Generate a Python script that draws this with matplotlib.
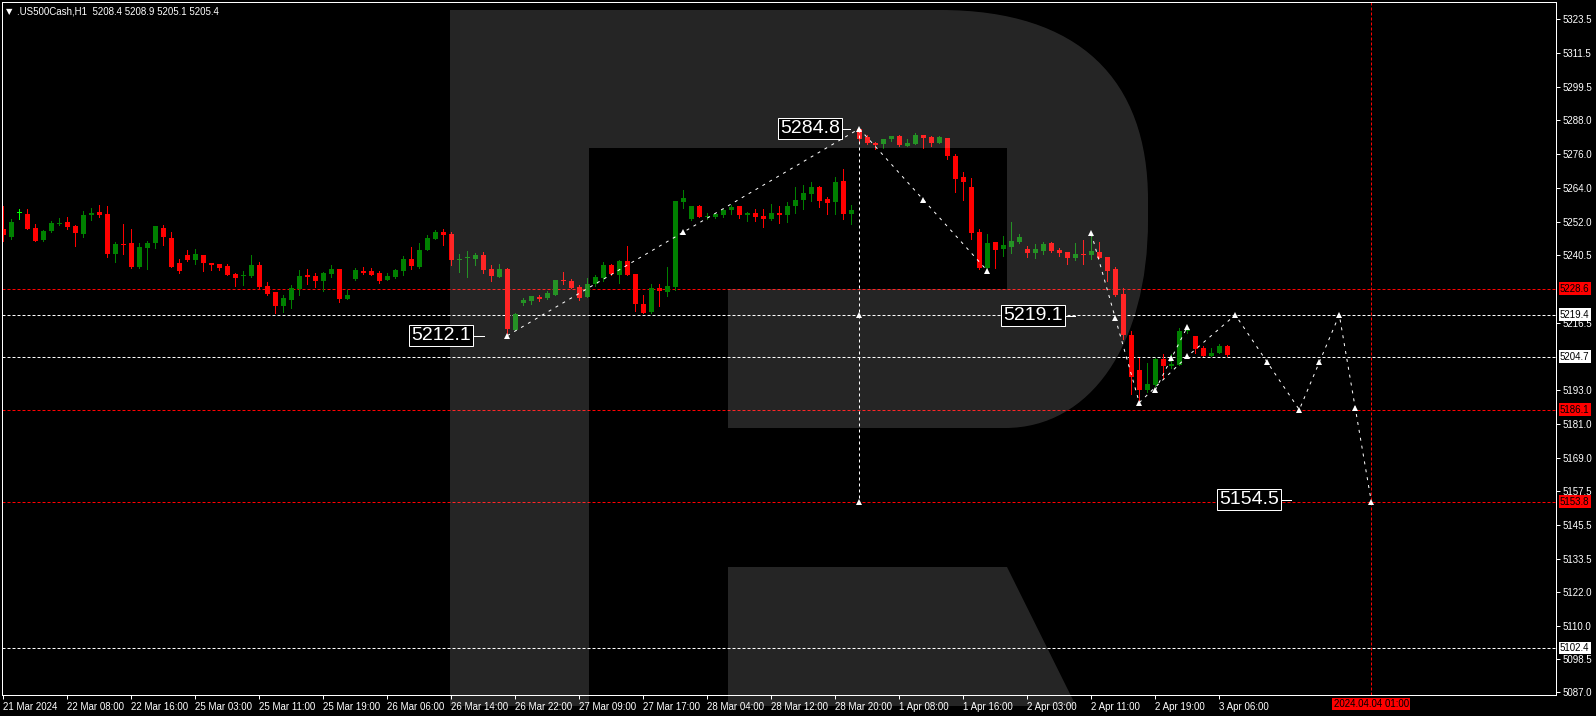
import numpy as np
import matplotlib
matplotlib.use('Agg')
import matplotlib.pyplot as plt
from matplotlib.path import Path
from matplotlib.patches import PathPatch
from matplotlib.transforms import Affine2D, blended_transform_factory

plt.rcParams['font.family'] = ['Liberation Sans', 'DejaVu Sans']

W, H = 1596, 716

# .US500Cash H1 bars, left to right (open, high, low, close)
opens = [5249.6, 5246.9, 5255.1, 5254.9, 5250.0, 5245.7, 5248.9, 5251.5, 5252.1, 5250.7,
         5247.8, 5254.5, 5255.6, 5254.9, 5240.8, 5244.3, 5244.7, 5236.3, 5242.9, 5244.7,
         5250.0, 5246.4, 5237.7, 5240.5, 5238.7, 5240.5, 5237.6, 5237.3, 5236.6, 5233.8,
         5233.0, 5233.1, 5236.9, 5229.5, 5227.4, 5222.5, 5224.6, 5228.5, 5233.4, 5233.1,
         5231.3, 5233.8, 5235.5, 5225.0, 5232.0, 5234.8, 5234.8, 5234.1, 5231.7, 5232.7,
         5234.8, 5239.0, 5236.2, 5242.2, 5246.0, 5248.5, 5247.8, 5238.7, 5239.3, 5239.0,
         5240.4, 5235.5, 5232.7, 5235.5, 5214.1, 5223.6, 5224.3, 5225.7, 5225.3, 5226.4,
         5231.8, 5231.3, 5229.2, 5225.7, 5230.2, 5232.4, 5236.9, 5233.4, 5238.3, 5233.8,
         5223.2, 5220.4, 5228.8, 5227.4, 5229.2, 5259.0, 5253.1, 5257.6, 5253.8, 5253.8,
         5254.5, 5256.2, 5257.6, 5254.5, 5255.2, 5254.1, 5253.1, 5255.2, 5254.5, 5257.6,
         5259.8, 5261.8, 5264.3, 5260.1, 5259.0, 5266.4, 5254.8, 5284.7, 5281.9, 5279.8,
         5279.4, 5281.2, 5282.2, 5278.7, 5279.4, 5282.6, 5281.9, 5279.8, 5281.5, 5275.2,
         5267.8, 5264.3, 5248.5, 5235.9, 5245.0, 5242.6, 5243.2, 5245.0, 5242.5, 5241.1,
         5241.8, 5244.6, 5242.2, 5241.5, 5239.4, 5240.8, 5240.4, 5241.5, 5239.7, 5235.5,
         5226.7, 5212.3, 5200.0, 5193.0, 5194.8, 5203.9, 5201.4, 5201.8, 5213.6, 5212.0,
         5207.8, 5204.9, 5206.0, 5208.4]
highs = [5257.7, 5253.1, 5256.6, 5256.6, 5251.4, 5249.1, 5252.3, 5253.5, 5253.8, 5251.1,
         5255.9, 5257.0, 5258.1, 5257.7, 5245.0, 5251.4, 5249.6, 5244.7, 5245.4, 5250.7,
         5251.0, 5248.5, 5239.1, 5242.2, 5242.6, 5240.5, 5237.6, 5237.3, 5237.3, 5234.1,
         5234.8, 5240.4, 5238.0, 5231.0, 5227.4, 5226.4, 5229.9, 5235.2, 5235.5, 5234.1,
         5234.5, 5236.9, 5235.5, 5228.1, 5235.9, 5236.2, 5235.9, 5234.8, 5234.1, 5235.5,
         5240.1, 5243.2, 5244.6, 5247.5, 5249.2, 5249.6, 5248.5, 5240.8, 5241.8, 5241.1,
         5241.5, 5236.9, 5237.3, 5235.9, 5220.1, 5225.3, 5226.0, 5226.4, 5227.8, 5231.6,
         5234.5, 5232.0, 5229.9, 5232.4, 5233.4, 5238.0, 5237.3, 5238.7, 5243.6, 5233.8,
         5226.4, 5230.2, 5230.2, 5236.2, 5259.4, 5263.3, 5257.6, 5258.0, 5255.2, 5255.2,
         5256.6, 5258.0, 5257.6, 5255.5, 5256.6, 5256.6, 5258.4, 5257.6, 5259.0, 5264.3,
         5265.0, 5266.1, 5264.7, 5260.8, 5267.8, 5270.6, 5258.0, 5284.8, 5282.6, 5280.1,
         5281.2, 5282.2, 5282.6, 5281.2, 5283.3, 5282.6, 5282.2, 5282.2, 5281.5, 5275.9,
         5269.6, 5267.5, 5249.6, 5247.8, 5245.0, 5247.1, 5252.0, 5247.8, 5243.6, 5244.3,
         5245.0, 5245.0, 5242.9, 5241.5, 5244.6, 5245.7, 5247.8, 5245.0, 5239.7, 5236.2,
         5228.8, 5213.7, 5204.3, 5202.5, 5204.2, 5205.7, 5205.7, 5214.8, 5215.5, 5212.0,
         5208.5, 5207.8, 5209.2, 5208.9]
lows = [5245.2, 5246.2, 5253.2, 5249.4, 5245.2, 5245.5, 5248.5, 5250.8, 5249.7, 5243.6,
        5246.9, 5252.8, 5253.9, 5239.8, 5238.0, 5240.8, 5235.9, 5235.9, 5235.6, 5242.9,
        5244.0, 5236.3, 5234.1, 5238.4, 5237.3, 5234.8, 5235.2, 5235.2, 5233.4, 5229.6,
        5229.9, 5232.7, 5228.5, 5226.4, 5220.1, 5220.4, 5221.8, 5226.4, 5230.3, 5229.2,
        5227.8, 5232.7, 5223.9, 5225.0, 5231.7, 5233.8, 5233.4, 5230.6, 5231.7, 5232.4,
        5233.4, 5235.5, 5235.9, 5242.2, 5246.0, 5244.0, 5236.9, 5234.5, 5232.7, 5236.9,
        5234.1, 5231.3, 5232.7, 5212.1, 5214.1, 5222.9, 5223.2, 5224.3, 5225.0, 5226.4,
        5230.3, 5228.8, 5224.6, 5225.7, 5229.5, 5231.3, 5233.4, 5230.6, 5233.4, 5220.8,
        5220.1, 5220.1, 5222.5, 5226.0, 5228.1, 5257.0, 5252.7, 5253.8, 5253.1, 5253.4,
        5253.8, 5254.8, 5253.4, 5252.4, 5252.4, 5250.3, 5252.7, 5251.7, 5252.0, 5255.2,
        5256.6, 5259.4, 5257.3, 5254.8, 5254.8, 5253.1, 5251.3, 5279.8, 5279.4, 5277.7,
        5278.0, 5280.5, 5278.7, 5278.7, 5279.4, 5278.0, 5278.7, 5279.8, 5274.1, 5262.6,
        5259.8, 5246.0, 5235.5, 5235.5, 5235.9, 5240.1, 5241.1, 5244.6, 5239.7, 5239.4,
        5240.8, 5241.5, 5240.1, 5237.3, 5238.7, 5237.3, 5239.0, 5239.4, 5231.3, 5226.0,
        5210.9, 5191.6, 5188.8, 5192.3, 5194.4, 5197.2, 5200.7, 5201.8, 5212.9, 5206.0,
        5204.9, 5204.9, 5206.0, 5205.1]
closes = [5247.3, 5252.1, 5255.1, 5249.6, 5245.4, 5248.9, 5251.7, 5251.7, 5250.3, 5248.2,
          5254.5, 5255.2, 5254.5, 5240.8, 5244.3, 5244.1, 5236.3, 5243.3, 5244.7, 5250.7,
          5246.8, 5236.3, 5234.8, 5238.7, 5240.8, 5237.7, 5236.9, 5235.9, 5233.4, 5232.4,
          5233.1, 5236.9, 5229.2, 5226.7, 5222.5, 5225.3, 5228.8, 5233.1, 5232.7, 5231.3,
          5234.1, 5235.5, 5225.0, 5226.4, 5235.2, 5234.1, 5233.4, 5231.3, 5233.1, 5235.2,
          5239.0, 5236.6, 5242.2, 5246.4, 5248.5, 5247.5, 5238.7, 5238.8, 5239.4, 5240.4,
          5235.2, 5233.1, 5235.5, 5214.4, 5219.7, 5224.6, 5226.0, 5225.0, 5227.1, 5231.6,
          5231.4, 5228.8, 5225.3, 5230.2, 5232.7, 5236.9, 5233.8, 5238.3, 5233.4, 5223.2,
          5220.1, 5228.8, 5227.8, 5229.5, 5259.4, 5260.5, 5257.6, 5253.8, 5254.1, 5254.8,
          5256.2, 5257.3, 5254.5, 5255.2, 5253.8, 5253.1, 5255.2, 5254.5, 5257.6, 5259.8,
          5262.2, 5264.3, 5259.4, 5258.7, 5266.1, 5254.8, 5256.2, 5281.2, 5279.8, 5279.1,
          5281.2, 5282.2, 5279.1, 5279.8, 5282.6, 5281.5, 5279.8, 5281.9, 5275.2, 5267.1,
          5266.1, 5248.1, 5235.9, 5244.6, 5242.2, 5244.0, 5245.4, 5246.7, 5241.1, 5242.5,
          5244.3, 5241.8, 5241.1, 5239.4, 5240.8, 5240.4, 5241.8, 5239.4, 5234.8, 5226.4,
          5212.3, 5197.6, 5193.0, 5195.1, 5203.9, 5201.4, 5202.1, 5213.7, 5214.5, 5207.4,
          5204.9, 5206.0, 5208.5, 5205.4]

time_tick_bars = list(range(0, 153, 8))
time_labels = ['21 Mar 2024', '22 Mar 08:00', '22 Mar 16:00', '25 Mar 03:00', '25 Mar 11:00',
               '25 Mar 19:00', '26 Mar 06:00', '26 Mar 14:00', '26 Mar 22:00', '27 Mar 09:00',
               '27 Mar 17:00', '28 Mar 04:00', '28 Mar 12:00', '28 Mar 20:00', '1 Apr 08:00',
               '1 Apr 16:00', '2 Apr 03:00', '2 Apr 11:00', '2 Apr 19:00', '3 Apr 06:00']
price_ticks = [5323.5, 5311.5, 5299.5, 5288.0, 5276.0, 5264.0, 5252.0, 5240.5, 5216.5,
               5193.0, 5181.0, 5169.0, 5157.5, 5145.5, 5133.5, 5122.0, 5110.0, 5098.5, 5087.0]

red_levels = [5228.6, 5186.1, 5153.8]
white_levels = [5219.4, 5204.7, 5102.4]
target_bar = 171
target_label = '2024.04.04 01:00'

# wave drawings (bar index, price)
wave_up_x = [63, 107]
wave_up_y = [5212.1, 5284.8]
wave_down_x = [107, 123]
wave_down_y = [5284.8, 5234.9]
drop_x = [136, 142]
drop_y = [5248.0, 5188.6]
branch_x = [144, 148]
branch_y = [5193.0, 5215.2]
forecast_x = [142, 148, 154, 162, 167, 171]
forecast_y = [5188.6, 5204.8, 5219.4, 5186.1, 5219.4, 5153.8]
target_line_x = [107, 107]
target_line_y = [5284.8, 5153.8]
marker_x = [63, 85, 107, 107, 107, 115, 123, 136, 139, 142, 144, 146, 148, 148, 154,
            158, 162, 164.5, 167, 169, 171]
marker_y = [5212.1, 5248.45, 5284.8, 5219.3, 5153.8, 5259.85, 5234.9, 5248.0, 5218.3,
            5188.6, 5193.0, 5204.1, 5215.2, 5204.8, 5219.4, 5202.8, 5186.1, 5202.8,
            5219.4, 5186.6, 5153.8]

# big price labels: text, price, box right edge (bars), end of leader (bars)
label_text = ['5284.8', '5212.1', '5219.1', '5154.5']
label_price = [5284.8, 5212.1, 5219.1, 5154.5]
label_right = [104.84, 58.7, 132.7, 159.7]
label_lead = [105.84, 60.1, 134.0, 161.0]

GREEN = '#008000'
RED = '#ff0000'
LIME = '#00ff00'
LW = 0.72  # one pixel

fig = plt.figure(figsize=(W / 100, H / 100), dpi=100, facecolor='black')
ax = fig.add_axes([2 / W, (H - 695) / H, 1554 / W, 693 / H], facecolor='black')

x = np.arange(len(opens))
o, h, l, c = (np.array(v) for v in (opens, highs, lows, closes))
cols = np.where(c > o, GREEN, np.where(c < o, RED, LIME))

ax.vlines(x, l, h, colors=cols, lw=LW, antialiased=False, zorder=2)
ax.bar(x, np.maximum(np.abs(c - o), 0.35), bottom=np.minimum(o, c), width=0.625,
       color=cols, lw=0, antialiased=False, zorder=2)

for lv in red_levels:
    ax.axhline(lv, color=RED, lw=LW, dashes=(3, 2), zorder=1.8)
for lv in white_levels:
    ax.axhline(lv, color='white', lw=LW, dashes=(3, 2), zorder=1.8)
ax.axvline(target_bar, color=RED, lw=LW, dashes=(3, 2), zorder=1.8)

for xs, ys in [(wave_up_x, wave_up_y), (wave_down_x, wave_down_y), (drop_x, drop_y),
               (branch_x, branch_y), (forecast_x, forecast_y)]:
    ax.plot(xs, ys, color='white', lw=LW, dashes=(3, 5), zorder=4)
ax.plot(target_line_x, target_line_y, color='white', lw=LW, dashes=(3, 3), zorder=4)
ax.plot(marker_x, marker_y, ls='none', marker='^', ms=4.2, color='white', mew=0, zorder=4)

# RoboForex "R" watermark, in output pixels (y down)
px = Affine2D().scale(1, -1).translate(0, H)
M, L4, C4, CL = Path.MOVETO, Path.LINETO, Path.CURVE4, Path.CLOSEPOLY
r_verts = [(450, 706), (450, 10), (940, 10),
           (1080, 10), (1148, 80), (1148, 200),
           (1148, 220),
           (1148, 345), (1090, 428), (1005, 428),
           (728, 428), (728, 289), (1007, 289), (1007, 148), (589, 148), (589, 706),
           (450, 706)]
r_codes = [M, L4, L4, C4, C4, C4, L4, C4, C4, C4, L4, L4, L4, L4, L4, L4, CL]
leg_verts = [(728, 567), (1007, 567), (1076, 706), (728, 706), (728, 567)]
leg_codes = [M, L4, L4, L4, CL]
for vv, cc in [(r_verts, r_codes), (leg_verts, leg_codes)]:
    p = PathPatch(Path(vv, cc), facecolor='white', alpha=0.15, lw=0,
                  transform=px, clip_on=False, zorder=3)
    ax.add_patch(p)

for txt, pr, xr, xl in zip(label_text, label_price, label_right, label_lead):
    ax.text(xr - 0.25, pr, txt, ha='right', va='center', fontsize=14, color='white',
            bbox=dict(boxstyle='square,pad=0.1', fc='black', ec='white', lw=LW), zorder=6)
    ax.plot([xr, xl], [pr, pr], color='white', lw=LW, zorder=6)

ax.set_xlim((2 - 3.3) / 8, (1556 - 3.3) / 8)
ax.set_ylim(5085.89, 5329.30)

for s in ax.spines.values():
    s.set_color('white')
    s.set_linewidth(LW)

ax.yaxis.tick_right()
ax.set_yticks(price_ticks)
ax.set_yticklabels([f'{v:.1f}' for v in price_ticks])
ax.tick_params(axis='y', colors='white', direction='out', length=3, width=LW, pad=2,
               labelsize=7, left=False, right=True, labelleft=False, labelright=True)
ax.set_xticks(time_tick_bars)
ax.set_xticklabels(time_labels, ha='left')
ax.tick_params(axis='x', colors='white', direction='out', length=3, width=LW, pad=2,
               labelsize=7)
for t in ax.get_xticklabels():
    t.set_x(t.get_position()[0])

# price tags on the right scale
tag_tr = blended_transform_factory(fig.transFigure, ax.transData)
for lv in red_levels:
    ax.text(1560 / W, lv, f'{lv:.1f}', transform=tag_tr, ha='left', va='center', fontsize=7,
            color='black', clip_on=False, zorder=7,
            bbox=dict(boxstyle='square,pad=0.15', fc=RED, ec=RED, lw=0))
for lv in white_levels:
    ax.text(1560 / W, lv, f'{lv:.1f}', transform=tag_tr, ha='left', va='center', fontsize=7,
            color='black', clip_on=False, zorder=7,
            bbox=dict(boxstyle='square,pad=0.15', fc='white', ec='white', lw=0))

date_tr = blended_transform_factory(ax.transData, fig.transFigure)
ax.text(target_bar, 1 - 704 / H, target_label, transform=date_tr, ha='center', va='center',
        fontsize=7, color='black', clip_on=False, zorder=7,
        bbox=dict(boxstyle='square,pad=0.15', fc=RED, ec=RED, lw=0))

fig.text(6 / W, 1 - 12 / H, '\u25bc', fontsize=6, color='white', va='center', ha='left',
         family=['DejaVu Sans'])
fig.text(17 / W, 1 - 12 / H, '.US500Cash,H1  5208.4 5208.9 5205.1 5205.4', fontsize=7,
         color='white', va='center', ha='left')

fig.savefig('out.png', dpi=100, facecolor='black')
